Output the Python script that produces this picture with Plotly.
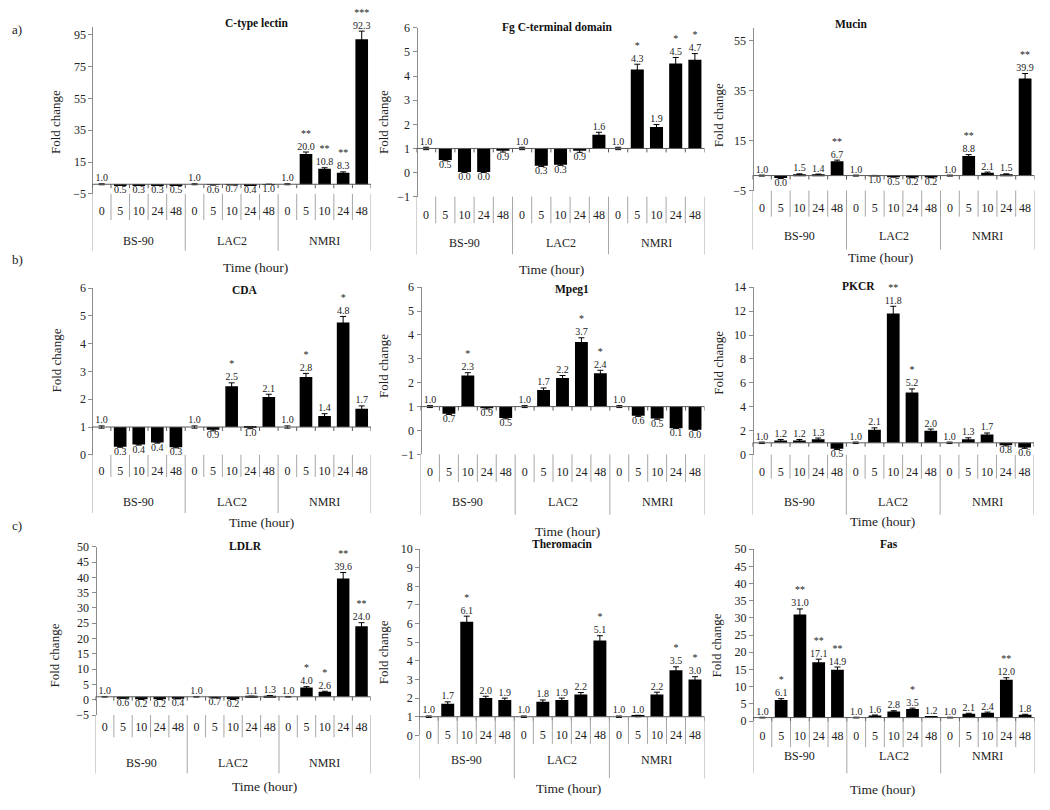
import plotly.graph_objects as go

# the page body keeps its default 8px margin, so the figure is 16px smaller than the window
OFF = 8
W, H = 1050 - 2 * OFF, 810 - 2 * OFF
FONT = "Liberation Serif, Times New Roman, serif"

groups = ["BS-90", "LAC2", "NMRI"]
times = ["0", "5", "10", "24", "48"]

# fold change, order: BS-90 0/5/10/24/48 h, LAC2 0/5/10/24/48 h, NMRI 0/5/10/24/48 h
ctype = [1.0, 0.5, 0.3, 0.3, 0.5, 1.0, 0.6, 0.7, 0.4, 0.97, 1.0, 20.0, 10.8, 8.3, 92.3]
ctype_err = [0.3, 0.1, 0.1, 0.1, 0.1, 0.3, 0.1, 0.1, 0.1, 0.1, 0.3, 1.3, 0.6, 0.5, 5.1]
ctype_sig = ["", "", "", "", "", "", "", "", "", "", "", "**", "**", "**", "***"]

fgc = [1.0, 0.52, 0.02, 0.02, 0.91, 1.0, 0.28, 0.33, 0.9, 1.57, 1.0, 4.27, 1.89, 4.52, 4.68]
fgc_err = [0.05, 0.03, 0.02, 0.02, 0.06, 0.05, 0.03, 0.03, 0.06, 0.1, 0.05, 0.22, 0.1, 0.25, 0.25]
fgc_sig = ["", "", "", "", "", "", "", "", "", "", "", "*", "", "*", "*"]

mucin = [1.0, 0.0, 1.5, 1.4, 6.7, 1.0, 0.97, 0.5, 0.2, 0.2, 1.0, 8.8, 2.1, 1.5, 39.9]
mucin_err = [0.2, 0.2, 0.2, 0.2, 0.5, 0.2, 0.1, 0.1, 0.1, 0.1, 0.2, 0.6, 0.3, 0.2, 2.0]
mucin_sig = ["", "", "", "", "**", "", "", "", "", "", "", "**", "", "", "**"]

cda = [1.0, 0.29, 0.37, 0.44, 0.27, 1.0, 0.9, 2.47, 0.98, 2.08, 1.0, 2.8, 1.4, 4.76, 1.66]
cda_err = [0.04, 0.02, 0.02, 0.02, 0.02, 0.04, 0.04, 0.12, 0.04, 0.1, 0.04, 0.13, 0.08, 0.22, 0.1]
cda_sig = ["", "", "", "", "", "", "", "*", "", "", "", "*", "", "*", ""]

mpeg1 = [1.0, 0.7, 2.3, 0.93, 0.52, 1.0, 1.7, 2.2, 3.7, 2.4, 1.0, 0.62, 0.5, 0.1, 0.03]
mpeg1_err = [0.04, 0.03, 0.12, 0.03, 0.03, 0.04, 0.08, 0.1, 0.18, 0.12, 0.04, 0.03, 0.03, 0.02, 0.02]
mpeg1_sig = ["", "", "*", "", "", "", "", "", "*", "*", "", "", "", "", ""]

pkcr = [1.0, 1.2, 1.2, 1.3, 0.5, 1.0, 2.1, 11.8, 5.2, 2.0, 1.0, 1.3, 1.7, 0.8, 0.6]
pkcr_err = [0.06, 0.08, 0.08, 0.1, 0.06, 0.06, 0.15, 0.6, 0.3, 0.15, 0.06, 0.12, 0.12, 0.06, 0.06]
pkcr_sig = ["", "", "", "", "", "", "", "**", "*", "", "", "", "", "", ""]

ldlr = [1.0, 0.6, 0.2, 0.2, 0.4, 1.0, 0.7, 0.2, 1.1, 1.3, 1.0, 4.0, 2.6, 39.6, 24.0]
ldlr_err = [0.1, 0.1, 0.1, 0.1, 0.1, 0.1, 0.1, 0.1, 0.1, 0.1, 0.1, 0.3, 0.2, 2.0, 1.2]
ldlr_sig = ["", "", "", "", "", "", "", "", "", "", "", "*", "*", "**", "**"]

thero = [1.0, 1.7, 6.1, 2.0, 1.9, 1.0, 1.8, 1.9, 2.2, 5.1, 1.0, 1.04, 2.2, 3.5, 3.0]
thero_err = [0.04, 0.1, 0.3, 0.1, 0.1, 0.04, 0.1, 0.1, 0.1, 0.25, 0.04, 0.04, 0.12, 0.18, 0.15]
thero_sig = ["", "", "*", "", "", "", "", "", "", "*", "", "", "", "*", "*"]

fas = [1.0, 6.1, 31.0, 17.1, 14.9, 1.0, 1.6, 2.8, 3.5, 1.2, 1.0, 2.1, 2.4, 12.0, 1.8]
fas_err = [0.1, 0.4, 1.6, 0.9, 0.8, 0.1, 0.15, 0.2, 0.25, 0.1, 0.1, 0.15, 0.2, 0.6, 0.15]
fas_sig = ["", "*", "**", "**", "**", "", "", "", "*", "", "", "", "", "**", ""]

genes = [
    ("C-type lectin", ctype, ctype_err, ctype_sig),
    ("Fg C-terminal domain", fgc, fgc_err, fgc_sig),
    ("Mucin", mucin, mucin_err, mucin_sig),
    ("CDA", cda, cda_err, cda_sig),
    ("Mpeg1", mpeg1, mpeg1_err, mpeg1_sig),
    ("PKCR", pkcr, pkcr_err, pkcr_sig),
    ("LDLR", ldlr, ldlr_err, ldlr_sig),
    ("Theromacin", thero, thero_err, thero_sig),
    ("Fas", fas, fas_err, fas_sig),
]

# panel geometry, in window pixels
panels = [
    dict(xl=92.4, xr=371, yt=20.2, yb=190, ymin=-5, ymax=100, dtick=20, cat=190, inner=207,
         inner_end=216.7, grp=238, div_end=248, time=(221, 265), title=(223, 17), fold=(55, 117)),
    dict(xl=416.5, xr=704.5, yt=21, yb=193, ymin=-1, ymax=6, dtick=1, cat=193, inner=210.7,
         inner_end=220, grp=240, div_end=251.7, time=(551, 266.7), title=(556.7, 20.7), fold=(383, 117)),
    dict(xl=752.5, xr=1034.5, yt=21.6, yb=186.7, ymin=-5, ymax=60, dtick=20, cat=186.7, inner=204,
         inner_end=213.3, grp=233.3, div_end=246.7, time=(915, 255), title=(870, 16.7), fold=(718, 110)),
    dict(xl=92.3, xr=371, yt=286, yb=455.7, ymin=0, ymax=6, dtick=1, cat=455.7, inner=471.7,
         inner_end=478.3, grp=503.3, div_end=515, time=(227, 525), title=(230, 288.3), fold=(56.7, 360)),
    dict(xl=420.5, xr=704.5, yt=285, yb=455.3, ymin=-1, ymax=6, dtick=1, cat=455.3, inner=473.3,
         inner_end=483.3, grp=503.3, div_end=516.7, time=(567.5, 534), title=(571.7, 287.3), fold=(383.3, 365)),
    dict(xl=752.5, xr=1034, yt=285, yb=455.7, ymin=0, ymax=14, dtick=2, cat=455.7, inner=472.7,
         inner_end=480, grp=503.3, div_end=516.7, time=(917, 523.3), title=(876.7, 284.3), fold=(718.3, 361.7)),
    dict(xl=95.5, xr=370.7, yt=549.3, yb=720.7, ymin=-5, ymax=50, dtick=5, cat=720.7, inner=732.7,
         inner_end=743.3, grp=769, div_end=780, time=(230, 793.3), title=(226.7, 548.3), fold=(55, 660)),
    dict(xl=419.2, xr=704.5, yt=551.7, yb=741.3, ymin=0, ymax=10, dtick=1, cat=722.3, inner=740.5,
         inner_end=750, grp=766, div_end=785, time=(568, 795), title=(561.7, 547), fold=(383, 656.7)),
    dict(xl=753, xr=1034.5, yt=551.7, yb=726.7, ymin=0, ymax=50, dtick=5, cat=726.7, inner=741.7,
         inner_end=753.3, grp=762.7, div_end=780, time=(917, 796.7), title=(900, 546.7), fold=(716.7, 650)),
]

cats = [(g, t) for g in groups for t in times]
xpos = list(range(len(cats)))
ticktext = [t for g, t in cats]


def px(x):
    return (x - OFF) / W


def py(y):
    return 1 - (y - OFF) / H


fig = go.Figure()
shapes = []
annotations = []
layout_axes = {}

for k, (spec, gene) in enumerate(zip(panels, genes), start=1):
    name, vals, errs, sig = gene
    xref = "x" if k == 1 else "x%d" % k
    yref = "y" if k == 1 else "y%d" % k

    fig.add_trace(go.Bar(
        x=xpos, y=[v - 1 for v in vals], base=1, width=0.68,
        marker=dict(color="black", line=dict(width=0)),
        error_y=dict(type="data", array=errs, color="black", thickness=1, width=3),
        xaxis=xref, yaxis=yref, showlegend=False, hoverinfo="skip"))

    ty, tpos, ttxt = [], [], []
    for v, e, s in zip(vals, errs, sig):
        lab = "%.1f" % v
        if v >= 1:
            ty.append(v + e)
            tpos.append("top center")
            ttxt.append(s + "<br>" + lab if s else lab)
        else:
            ty.append(v - e)
            tpos.append("bottom center")
            ttxt.append(lab)
    fig.add_trace(go.Scatter(
        x=xpos, y=ty, mode="text", text=ttxt, textposition=tpos, cliponaxis=False,
        textfont=dict(family=FONT, size=10, color="#222"),
        xaxis=xref, yaxis=yref, showlegend=False, hoverinfo="skip"))

    ydom = [py(spec["yb"]), py(spec["yt"])]
    layout_axes["xaxis" if k == 1 else "xaxis%d" % k] = dict(
        domain=[px(spec["xl"]), px(spec["xr"])], range=[-0.5, 14.5],
        anchor="free", position=py(spec["cat"]),
        tickmode="array", tickvals=xpos, ticktext=ticktext, ticks="",
        ticklabelstandoff=max(0, round(spec["inner"] - spec["cat"] - 9)),
        showline=False, showgrid=False, zeroline=False, fixedrange=True,
        tickfont=dict(family=FONT, size=12, color="#222"))
    layout_axes["yaxis" if k == 1 else "yaxis%d" % k] = dict(
        domain=ydom, range=[spec["ymin"], spec["ymax"]],
        anchor="free", position=px(spec["xl"]),
        tick0=spec["ymin"], dtick=spec["dtick"],
        showline=True, linecolor="#8c8c8c", linewidth=1,
        ticks="outside", ticklen=4, tickcolor="#8c8c8c",
        showgrid=False, zeroline=False, fixedrange=True,
        tickfont=dict(family=FONT, size=12, color="#222"))

    # axis line at fold change = 1
    shapes.append(dict(type="line", xref=xref, yref=yref, x0=-0.5, x1=14.5, y0=1, y1=1,
                       line=dict(color="#5a5a5a", width=1)))
    base_p = ydom[0] + (1 - spec["ymin"]) / (spec["ymax"] - spec["ymin"]) * (ydom[1] - ydom[0])
    for b in range(16):
        shapes.append(dict(type="line", xref=xref, yref="paper", x0=b - 0.5, x1=b - 0.5,
                           y0=base_p, y1=base_p - 4 / H, line=dict(color="#5a5a5a", width=1)))
        end = spec["div_end"] if b % 5 == 0 else spec["inner_end"]
        shapes.append(dict(type="line", xref=xref, yref="paper", x0=b - 0.5, x1=b - 0.5,
                           y0=py(spec["cat"]), y1=py(end), line=dict(color="#a6a6a6", width=1)))

    for g, grp in enumerate(groups):
        annotations.append(dict(xref=xref, yref="paper", x=2 + 5 * g, y=py(spec["grp"]),
                                text=grp, showarrow=False, yanchor="middle",
                                font=dict(family=FONT, size=12, color="#222")))
    annotations.append(dict(xref="paper", yref="paper", x=px(spec["time"][0]), y=py(spec["time"][1]),
                            text="Time (hour)", showarrow=False, yanchor="middle",
                            font=dict(family=FONT, size=13.5, color="#222")))
    annotations.append(dict(xref="paper", yref="paper", x=px(spec["title"][0]), y=py(spec["title"][1]),
                            text="<b>%s</b>" % name, showarrow=False, yanchor="middle",
                            font=dict(family=FONT, size=11.5, color="#111")))
    annotations.append(dict(xref="paper", yref="paper", x=px(spec["fold"][0]), y=py(spec["fold"][1]),
                            text="Fold change", textangle=-90, showarrow=False,
                            xanchor="center", yanchor="middle",
                            font=dict(family=FONT, size=13, color="#222")))

for lab, (lx, ly) in zip(["a)", "b)", "c)"], [(17, 23), (17, 257), (17, 528)]):
    annotations.append(dict(xref="paper", yref="paper", x=px(lx), y=py(ly), text=lab,
                            showarrow=False, xanchor="center", yanchor="middle",
                            font=dict(family=FONT, size=13, color="#222")))

fig.update_layout(
    width=W, height=H, margin=dict(l=0, r=0, t=0, b=0),
    plot_bgcolor="white", paper_bgcolor="white",
    font=dict(family=FONT, color="#222"),
    shapes=shapes, annotations=annotations,
    showlegend=False, bargap=0.32,
    **layout_axes)

fig.write_html("out.html")
